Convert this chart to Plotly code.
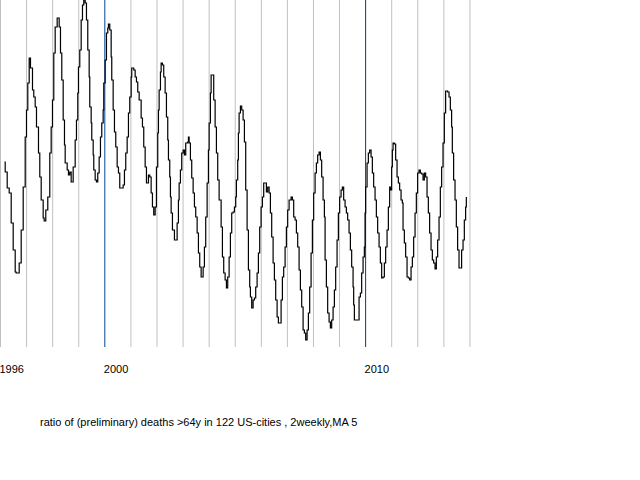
import plotly.graph_objects as go

# two-weekly periods counted from the start of 1996 (about 26.1 per year)
periods = [
    4, 4.7, 6.7, 8.7, 10.7, 12.7, 14.7, 15.7, 18.7, 20.7, 22.7, 24.7, 26, 27.3, 28.7, 30, 32, 33.3, 34.7, 36,
    38, 39.3, 40.7, 42.7, 43.7, 45.3, 47.3, 49.3, 50.7, 52, 53.3, 54.7, 56.7, 58.7, 60, 61.3, 62.7, 64, 64.7, 66.7,
    68, 69.3, 70.7, 72.7, 74.7, 76, 77.3, 78, 79.3, 80.7, 82, 83.3, 84.7, 86, 87.3, 88.7, 89.3, 90.7, 91.3, 92.7,
    93.3, 94.7, 96, 97.3, 98.7, 100, 101.3, 102.7, 103.3, 104.7, 106, 107.3, 108, 109.3, 110.7, 111.3, 112.7, 114, 115.3, 116.7,
    118, 119.3, 121.3, 122.7, 124, 125.3, 126.7, 128, 129.3, 130.7, 131.3, 133.3, 134.7, 136, 137.3, 138.7, 140.7, 142, 143.3, 144.7,
    146, 147.3, 148, 149.3, 150.7, 152, 153.3, 154.7, 156, 157.3, 158, 158.7, 160, 160.7, 162, 163.3, 164.7, 166, 167.3, 168,
    169.3, 170, 170.7, 172, 174, 175.3, 176.7, 178, 178.7, 180, 181.3, 182.7, 184, 185.3, 187.3, 188, 188.7, 190, 191.3, 192.7,
    194, 195.3, 196.7, 198, 199.3, 200.7, 202.7, 204, 205.3, 206.7, 208, 208.7, 210, 210.7, 212, 213.3, 214.7, 216, 217.3, 218.7,
    220.7, 222, 223.3, 224.7, 226, 227.3, 228.7, 230, 231.3, 232.7, 234, 235.3, 236, 237.3, 238, 238.7, 240, 241.3, 242.7, 244,
    245.3, 246.7, 248, 249.3, 250, 251.3, 252.7, 254, 255.3, 256.7, 258, 259.3, 260.7, 262, 263.3, 264.7, 266, 267.3, 268.7, 270,
    271.3, 272.7, 274, 275.3, 276.7, 278, 279.3, 280.7, 282, 283.3, 284.7, 286, 287.3, 288.7, 290.7, 292, 293.3, 294.7, 296, 297.3,
    298.7, 300, 301.3, 302.7, 304, 305.3, 306.7, 308, 309.3, 310.7, 312, 313.3, 314.7, 316, 317.3, 318.7, 320, 321.3, 322.7, 324,
    324.7, 326, 327.3, 328.7, 330, 331.3, 332.7, 334, 335.3, 336.7, 338, 339.3, 340.7, 342, 343.3, 344.7, 346, 347.3, 348.7, 350,
    351.3, 352.7, 353.3, 354, 356, 357.3, 358.7, 360, 361.3, 362.7, 364, 364.7, 365.3, 366.7, 368, 369.3, 370.7, 372, 373.3, 374.7,
    376, 377.3, 378.7, 380, 381.3, 382.7, 384, 385.3, 386.7, 388, 389.3, 390, 391.3, 392, 392.7, 394, 395.3, 396.7, 398, 399.3,
    400.7, 402, 402.7, 404, 405.3, 406.7, 408, 409.3, 410.7, 412, 413.3, 414.7, 416, 417.3, 418.7, 420, 421.3, 422.7, 424, 425.3,
    426.7, 428, 429.3, 430.7, 432, 433.3, 434.7, 436, 437.3, 438.7, 440, 441.3, 442.7, 444, 445.3, 447.3, 448.7, 450, 451.3, 452,
    453.3, 454.7, 456, 457.3, 458.7, 460, 461.3, 462.7, 464, 465.3, 466,
]

# ratio index (arbitrary units, no axis shown), MA 5
ratio = [
    188, 178, 162, 157, 127, 100, 78, 77, 87, 120, 163, 213, 240, 267, 292, 282, 260, 253, 243, 223,
    197, 173, 150, 132, 129, 140, 153, 197, 223, 250, 297, 323, 332, 323, 297, 270, 230, 205, 187, 180,
    175, 178, 168, 183, 210, 230, 257, 283, 300, 330, 345, 350, 347, 330, 300, 273, 243, 227, 210, 195,
    180, 170, 168, 177, 193, 213, 227, 240, 267, 290, 317, 322, 326, 320, 293, 270, 240, 218, 203, 183,
    177, 162, 162, 165, 180, 197, 213, 237, 253, 273, 282, 280, 273, 268, 258, 250, 232, 223, 203, 183,
    167, 167, 175, 173, 157, 143, 135, 143, 183, 217, 240, 260, 278, 287, 285, 273, 257, 233, 210, 190,
    173, 153, 137, 120, 110, 110, 127, 150, 167, 180, 197, 200, 195, 207, 208, 213, 207, 190, 172, 157,
    143, 133, 117, 97, 83, 73, 83, 103, 133, 167, 200, 227, 257, 275, 275, 250, 223, 197, 170, 150,
    123, 93, 77, 70, 62, 73, 93, 117, 137, 138, 143, 153, 170, 190, 217, 237, 244, 240, 230, 208,
    160, 120, 80, 63, 53, 42, 50, 52, 63, 77, 97, 123, 143, 153, 167, 167, 158, 163, 157, 137,
    113, 87, 70, 50, 33, 27, 27, 50, 73, 83, 103, 123, 140, 150, 153, 150, 133, 130, 117, 103,
    80, 60, 43, 20, 17, 10, 20, 37, 63, 97, 130, 157, 177, 187, 195, 198, 190, 173, 150, 133,
    90, 63, 37, 28, 22, 30, 43, 60, 83, 110, 137, 153, 160, 163, 150, 143, 137, 130, 117, 100,
    83, 63, 45, 30, 30, 30, 53, 57, 77, 93, 103, 137, 163, 187, 197, 200, 193, 177, 163, 150,
    133, 117, 103, 87, 72, 73, 87, 103, 120, 143, 163, 160, 183, 200, 207, 206, 190, 173, 167, 160,
    150, 147, 120, 107, 93, 73, 72, 70, 83, 93, 113, 137, 157, 177, 180, 177, 176, 170, 177, 173,
    153, 137, 117, 100, 90, 87, 81, 93, 110, 133, 163, 183, 207, 237, 259, 258, 253, 240, 223, 197,
    170, 150, 123, 100, 82, 82, 100, 110, 130, 143, 153,
]

year_ticks = list(range(1996, 2015))
year_labels = ["1996", "", "", "", "2000", "", "", "", "", "", "", "", "", "", "2010", "", "", "", ""]
marked_years = [2000, 2010]
marked_colors = ["#00449a", "#0e3a68"]

years = [1996 + p / 26.09 for p in periods]

fig = go.Figure()
fig.add_trace(go.Scatter(x=years, y=ratio, mode="lines",
                         line=dict(color="black", width=1.2, shape="hv"),
                         showlegend=False, hoverinfo="skip"))

# yearly grid lines, drawn as shapes so the edge years are kept
for yr in year_ticks:
    if yr in marked_years:
        col = marked_colors[marked_years.index(yr)]
    else:
        col = "#c0c0c0"
    fig.add_shape(type="line", xref="x", yref="paper", x0=yr, x1=yr, y0=0, y1=1,
                  line=dict(color=col, width=1), layer="below")

fig.add_annotation(text="ratio of (preliminary) deaths >64y in 122 US-cities , 2weekly,MA 5",
                   xref="paper", yref="paper", x=38 / 472, y=-75 / 347,
                   xanchor="left", yanchor="middle", showarrow=False,
                   font=dict(family="Liberation Sans", size=11, color="black"))

fig.update_layout(
    width=640, height=480,
    margin=dict(l=0, r=168, t=0, b=133),
    paper_bgcolor="white", plot_bgcolor="white",
    xaxis=dict(range=[1995.9808, 2014.0788], tickvals=year_ticks, ticktext=year_labels,
               showgrid=False, zeroline=False, showline=False, ticks="",
               ticklabelposition="outside right", ticklabeloverflow="allow",
               ticklabelstandoff=14, ticklabelshift=-1,
               tickfont=dict(family="Liberation Sans", size=11, color="black")),
    yaxis=dict(range=[3, 350], visible=False, showgrid=False, zeroline=False),
)

# drop the browser's default page margin so the chart sits at the window corner
fig.write_html("out.html", config={"displayModeBar": False},
               post_script="document.body.style.margin='0px';")
